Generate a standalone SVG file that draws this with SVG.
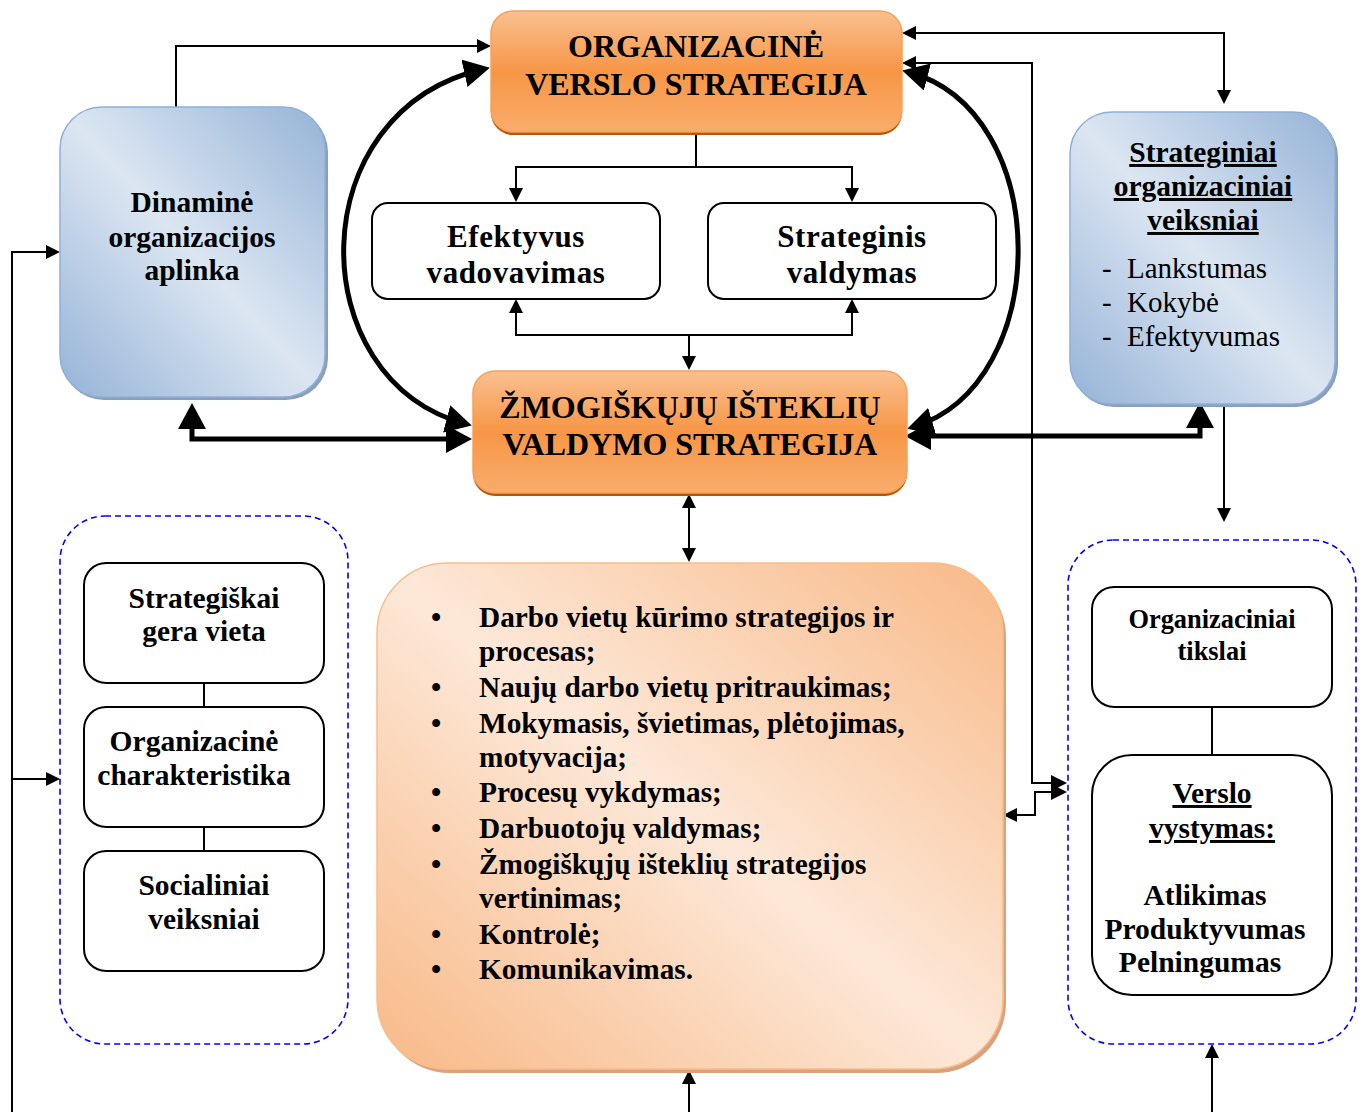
<svg xmlns="http://www.w3.org/2000/svg" width="1366" height="1112" viewBox="0 0 1366 1112">
<defs>
<linearGradient id="gOr" x1="0" y1="0" x2="0" y2="1">
<stop offset="0" stop-color="#fac090"/><stop offset="0.5" stop-color="#f79646"/><stop offset="1" stop-color="#f9ac6c"/>
</linearGradient>
<linearGradient id="gBl" x1="1" y1="0" x2="0" y2="1">
<stop offset="0" stop-color="#95b3d7"/><stop offset="0.5" stop-color="#dce6f2"/><stop offset="1" stop-color="#95b3d7"/>
</linearGradient>
<linearGradient id="gLo" x1="1" y1="0" x2="0" y2="1">
<stop offset="0" stop-color="#f8b987"/><stop offset="0.5" stop-color="#fde8d8"/><stop offset="1" stop-color="#f8b987"/>
</linearGradient>
<marker id="ah" viewBox="0 0 14 14" refX="11" refY="7" markerWidth="14" markerHeight="14" markerUnits="userSpaceOnUse" orient="auto-start-reverse"><path d="M0,0 L14,7 L0,14 z" fill="#000"/></marker>
<marker id="ahm" viewBox="0 0 16 16" refX="13" refY="8" markerWidth="16" markerHeight="16" markerUnits="userSpaceOnUse" orient="auto-start-reverse"><path d="M0,0 L16,8 L0,16 z" fill="#000"/></marker>
<marker id="ahb" viewBox="0 0 26 28" refX="20" refY="14" markerWidth="26" markerHeight="28" markerUnits="userSpaceOnUse" orient="auto-start-reverse"><path d="M0,0 L26,14 L0,28 z" fill="#000"/></marker>
</defs>
<style>
text{font-family:"Liberation Serif","Times New Roman",serif;fill:#000}
.t1{font-size:32px;font-weight:bold;text-anchor:middle}
.t2{font-size:31px;font-weight:bold;text-anchor:middle;letter-spacing:0.6px}
.t3{font-size:29.5px;font-weight:bold;text-anchor:middle}
.t4{font-size:26.4px;font-weight:bold;text-anchor:middle}
.li{font-size:29.3px;font-weight:bold}
.rg{font-size:29px}
.u{text-decoration:underline}
.box{fill:#fff;stroke:#000;stroke-width:2}
.dash{fill:none;stroke:#0000ff;stroke-width:1.6;stroke-dasharray:6 4}
.ln{fill:none;stroke:#000;stroke-width:2}
.thk{fill:none;stroke:#000;stroke-width:5}
</style>
<rect width="1366" height="1112" fill="#fff"/>

<g id="connectors">
<path class="ln" d="M176,107 V46 H488" marker-end="url(#ah)"/>
<path class="ln" d="M905,33 H1224 V101" marker-start="url(#ah)" marker-end="url(#ah)"/>
<path class="ln" d="M905,63 H1032 V783 H1064" marker-start="url(#ah)" marker-end="url(#ahm)"/>
<path class="ln" d="M1006,815 H1035 V792 H1064" marker-start="url(#ah)" marker-end="url(#ahm)"/>
<path class="ln" d="M696,133 V167"/>
<path class="ln" d="M516,199 V167 H852 V199" marker-start="url(#ah)" marker-end="url(#ah)"/>
<path class="ln" d="M516,302 V335 H852 V302" marker-start="url(#ah)" marker-end="url(#ah)"/>
<path class="ln" d="M689,335 V367" marker-end="url(#ah)"/>
<path class="ln" d="M689,497 V559" marker-start="url(#ah)" marker-end="url(#ah)"/>
<path class="ln" d="M689,1112 V1073" marker-end="url(#ah)"/>
<path class="ln" d="M1212,1112 V1047" marker-end="url(#ah)"/>
<path class="ln" d="M1224,404 V519" marker-end="url(#ah)"/>
<path class="ln" d="M12,1112 V252 H57" marker-end="url(#ah)"/>
<path class="ln" d="M12,779 H57" marker-end="url(#ah)"/>
<path class="thk" d="M192,409 V439 H466" marker-start="url(#ahb)" marker-end="url(#ahb)"/>
<path class="thk" d="M1200,408 V436 H911" marker-start="url(#ahb)" marker-end="url(#ahb)"/>
<path class="thk" d="M484,69 C300,110 300,380 466,424" marker-start="url(#ahb)" marker-end="url(#ahb)"/>
<path class="thk" d="M908,72 C1054,110 1054,385 913,427" marker-start="url(#ahb)" marker-end="url(#ahb)"/>
</g>

<g id="org-verslo">
<rect x="491" y="14" width="411" height="121" rx="22" fill="#b65708"/>
<rect x="491" y="11" width="411" height="121" rx="22" fill="url(#gOr)" stroke="#f7a05a" stroke-width="1.5"/>
<text class="t1" x="696" y="57">ORGANIZACINĖ</text>
<text class="t1" x="696" y="95">VERSLO STRATEGIJA</text>
</g>

<g id="efektyvus">
<rect class="box" x="372" y="203" width="288" height="96" rx="16"/>
<text class="t2" x="516" y="247">Efektyvus</text>
<text class="t2" x="516" y="283">vadovavimas</text>
</g>

<g id="strateginis">
<rect class="box" x="708" y="203" width="288" height="96" rx="16"/>
<text class="t2" x="852" y="247">Strateginis</text>
<text class="t2" x="852" y="283">valdymas</text>
</g>

<g id="zis">
<rect x="473" y="374" width="434" height="122" rx="22" fill="#b65708"/>
<rect x="473" y="371" width="434" height="122" rx="22" fill="url(#gOr)" stroke="#f7a05a" stroke-width="1.5"/>
<text class="t1" x="690" y="418">ŽMOGIŠKŲJŲ IŠTEKLIŲ</text>
<text class="t1" x="690" y="455">VALDYMO STRATEGIJA</text>
</g>

<g id="dinamine">
<rect x="62" y="110" width="266" height="290" rx="42" fill="#8a9fb9"/>
<rect x="60" y="107" width="265" height="290" rx="42" fill="url(#gBl)" stroke="#8eb0d8" stroke-width="1.5"/>
<text class="t3" x="192" y="212">Dinaminė</text>
<text class="t3" x="192" y="247">organizacijos</text>
<text class="t3" x="192" y="280">aplinka</text>
</g>

<g id="strateginiai">
<rect x="1072" y="115" width="266" height="292" rx="42" fill="#8a9fb9"/>
<rect x="1070" y="112" width="265" height="292" rx="42" fill="url(#gBl)" stroke="#8eb0d8" stroke-width="1.5"/>
<text class="t3 u" x="1203" y="162">Strateginiai</text>
<text class="t3 u" x="1203" y="196">organizaciniai</text>
<text class="t3 u" x="1203" y="230">veiksniai</text>
<text class="rg" x="1102" y="278">-</text><text class="rg" x="1127" y="278">Lankstumas</text>
<text class="rg" x="1102" y="312">-</text><text class="rg" x="1127" y="312">Kokybė</text>
<text class="rg" x="1102" y="346">-</text><text class="rg" x="1127" y="346">Efektyvumas</text>
</g>

<g id="left-group">
<rect class="dash" x="60" y="516" width="288" height="528" rx="45"/>
<path class="ln" d="M204,683 V707 M204,827 V851"/>
</g>
<g id="strategiskai">
<rect class="box" x="84" y="563" width="240" height="120" rx="22"/>
<text class="t3" x="204" y="608">Strategiškai</text>
<text class="t3" x="204" y="641">gera vieta</text>
</g>
<g id="org-char">
<rect class="box" x="84" y="707" width="240" height="120" rx="22"/>
<text class="t3" x="194" y="751">Organizacinė</text>
<text class="t3" x="194" y="785">charakteristika</text>
</g>
<g id="socialiniai">
<rect class="box" x="84" y="851" width="240" height="120" rx="22"/>
<text class="t3" x="204" y="895">Socialiniai</text>
<text class="t3" x="204" y="929">veiksniai</text>
</g>

<g id="list-box">
<rect x="380" y="567" width="626" height="506" rx="70" fill="#d9a27d"/>
<rect x="377" y="563" width="626" height="506" rx="70" fill="url(#gLo)" stroke="#f9bd8c" stroke-width="1.5"/>
<g class="li">
<text x="431" y="627">•</text><text x="479" y="627">Darbo vietų kūrimo strategijos ir</text>
<text x="479" y="661">procesas;</text>
<text x="431" y="697">•</text><text x="479" y="697">Naujų darbo vietų pritraukimas;</text>
<text x="431" y="733">•</text><text x="479" y="733">Mokymasis, švietimas, plėtojimas,</text>
<text x="479" y="767">motyvacija;</text>
<text x="431" y="802">•</text><text x="479" y="802">Procesų vykdymas;</text>
<text x="431" y="838">•</text><text x="479" y="838">Darbuotojų valdymas;</text>
<text x="431" y="874">•</text><text x="479" y="874">Žmogiškųjų išteklių strategijos</text>
<text x="479" y="908">vertinimas;</text>
<text x="431" y="944">•</text><text x="479" y="944">Kontrolė;</text>
<text x="431" y="979">•</text><text x="479" y="979">Komunikavimas.</text>
</g>
</g>

<g id="right-group">
<rect class="dash" x="1068" y="540" width="288" height="504" rx="45"/>
<path class="ln" d="M1212,707 V755"/>
</g>
<g id="org-tikslai">
<rect class="box" x="1092" y="587" width="240" height="120" rx="22"/>
<text class="t4" x="1212" y="628">Organizaciniai</text>
<text class="t4" x="1212" y="660">tikslai</text>
</g>
<g id="verslo-vystymas">
<rect class="box" x="1092" y="755" width="240" height="240" rx="40"/>
<text class="t3 u" x="1212" y="803">Verslo</text>
<text class="t3 u" x="1212" y="838">vystymas:</text>
<text class="t3" x="1205" y="905">Atlikimas</text>
<text class="t3" x="1205" y="939">Produktyvumas</text>
<text class="t3" x="1200" y="972">Pelningumas</text>
</g>
</svg>
